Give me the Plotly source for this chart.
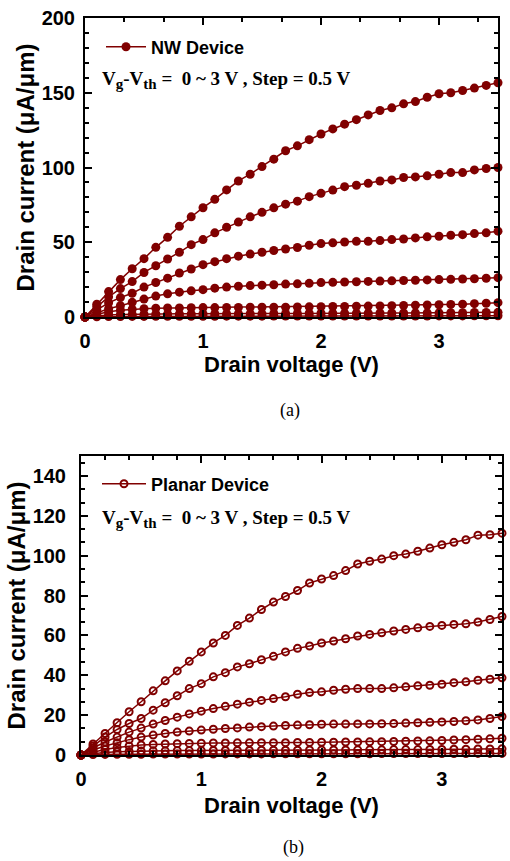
import plotly.graph_objects as go

# ---------------- data ----------------
vd = [0.0, 0.1, 0.2, 0.3, 0.4, 0.5, 0.6, 0.7, 0.8, 0.9, 1.0, 1.1, 1.2, 1.3, 1.4, 1.5, 1.6, 1.7,
      1.8, 1.9, 2.0, 2.1, 2.2, 2.3, 2.4, 2.5, 2.6, 2.7, 2.8, 2.9, 3.0, 3.1, 3.2, 3.3, 3.4, 3.5]

# NW device, Vg-Vth = 3.0, 2.5, 2.0, 1.5, 1.0, 0.5, 0 V
nw_30 = [0, 8.5, 17, 25, 32.3, 39, 46.6, 53.3, 60.7, 67, 73.1, 78.7, 85, 91, 95.5, 100.6, 105.6, 111.2,
         114.5, 118.6, 122.4, 125.8, 129, 132, 135.2, 138.1, 139.9, 142.6, 144.1, 147, 149.3, 150, 151.5, 153.1, 154.9, 156.7]
nw_25 = [0, 7, 13.5, 19, 23.7, 29.8, 34.3, 38.8, 43.3, 48.4, 51.8, 56.3, 60, 63.5, 67, 70, 73, 75.5,
         77.5, 80.5, 82.7, 84.9, 87.2, 88.1, 89.4, 91, 91.7, 93.3, 93.7, 94.4, 95.5, 96.6, 96.6, 98.4, 99.3, 100]
nw_20 = [0, 5, 9.5, 13, 15.9, 20, 23.1, 26, 29.4, 32.1, 35, 37, 39, 40.7, 42.1, 43.3, 44.5, 45.5,
         46.5, 48, 49.1, 49.6, 50.2, 50.6, 50.6, 51.1, 51.8, 52.2, 52.9, 53.6, 54, 54.7, 55.1, 55.8, 56.3, 57.4]
nw_15 = [0, 3, 5.5, 7.5, 9.8, 12, 14, 15.5, 16.6, 17.5, 18.3, 19.3, 20, 20.6, 21, 21.3, 21.6, 22,
         22.2, 22.5, 23, 23.2, 23.4, 23.6, 23.8, 24, 24.2, 24.4, 24.6, 24.8, 25, 25.2, 25.4, 25.6, 25.9, 26.3]
nw_10 = [0, 2, 3.5, 4.5, 5.2, 5.6, 5.9, 6.0, 6.1, 6.2, 6.3, 6.3, 6.4, 6.4, 6.5, 6.5, 6.6, 6.6,
         6.7, 6.8, 6.9, 7.0, 7.1, 7.2, 7.3, 7.4, 7.6, 7.7, 7.9, 8.0, 8.2, 8.4, 8.6, 8.9, 9.2, 9.6]
nw_05 = [0, 0.8, 1.3, 1.6, 1.8, 1.9, 2.0, 2.0, 2.1, 2.1, 2.2, 2.2, 2.2, 2.3, 2.3, 2.3, 2.4, 2.4,
         2.4, 2.5, 2.5, 2.5, 2.6, 2.6, 2.6, 2.7, 2.7, 2.7, 2.8, 2.8, 2.8, 2.9, 2.9, 3.0, 3.0, 3.1]
nw_00 = [0, 0.2, 0.3, 0.35, 0.4, 0.4, 0.45, 0.45, 0.5, 0.5, 0.5, 0.5, 0.55, 0.55, 0.55, 0.55, 0.6, 0.6,
         0.6, 0.6, 0.6, 0.65, 0.65, 0.65, 0.65, 0.7, 0.7, 0.7, 0.7, 0.7, 0.75, 0.75, 0.75, 0.8, 0.8, 0.8]

# Planar device, Vg-Vth = 3.0, 2.5, 2.0, 1.5, 1.0, 0.5, 0 V
pl_30 = [0, 5.5, 10.8, 16.2, 21.7, 26.7, 32.2, 37.2, 42.2, 47, 51.7, 56.2, 60, 65, 68.7, 73, 76.7, 79.5,
         82.5, 86.3, 88.3, 90, 92.5, 95.8, 97.2, 98.3, 100, 100.8, 102.2, 103.8, 105.5, 106.7, 108, 110.3, 110.5, 111.3]
pl_25 = [0, 4.5, 9, 12.8, 15.8, 18.3, 22.5, 26.2, 29.7, 33.3, 35.8, 39.2, 41.3, 44.2, 45.8, 47.8, 49.5, 51.7,
         53.5, 54.7, 56.2, 57.2, 58.3, 59.7, 60.5, 61.3, 62.2, 63, 63.8, 64.5, 65, 65.5, 65.8, 66.7, 68, 69.5]
pl_20 = [0, 3.5, 6.5, 9, 11.5, 13.5, 15.5, 17.3, 19, 20.6, 22, 23.3, 24.4, 25.5, 26.5, 27.4, 28.3, 29.2,
         30.5, 31.3, 31.7, 32.5, 33, 33.3, 33.3, 33.3, 33.7, 34.2, 34.7, 35, 35.5, 36.3, 36.7, 37.5, 38, 38.7]
pl_15 = [0, 2.5, 4.5, 6.2, 7.7, 9, 10, 10.8, 11.5, 12, 12.5, 12.9, 13.3, 13.6, 14, 14.2, 14.5, 14.8,
         15, 15.2, 15.4, 15.5, 15.5, 15.6, 15.6, 15.7, 15.8, 16, 16.2, 16.4, 16.6, 16.8, 17.2, 17.6, 18.3, 19.3]
pl_10 = [0, 1.5, 2.8, 3.8, 4.5, 5, 5.3, 5.5, 5.7, 5.8, 5.9, 6.0, 6.0, 6.1, 6.1, 6.2, 6.2, 6.2,
         6.3, 6.3, 6.4, 6.4, 6.5, 6.5, 6.6, 6.7, 6.8, 6.9, 7.0, 7.1, 7.3, 7.5, 7.7, 7.9, 8.1, 8.4]
pl_05 = [0, 0.8, 1.3, 1.6, 1.8, 2.0, 2.1, 2.1, 2.2, 2.2, 2.2, 2.3, 2.3, 2.3, 2.3, 2.4, 2.4, 2.4,
         2.4, 2.5, 2.5, 2.5, 2.5, 2.6, 2.6, 2.6, 2.7, 2.7, 2.7, 2.8, 2.8, 2.9, 2.9, 3.0, 3.0, 3.1]
pl_00 = [0, 0.2, 0.3, 0.35, 0.4, 0.4, 0.45, 0.45, 0.5, 0.5, 0.5, 0.5, 0.55, 0.55, 0.55, 0.55, 0.6, 0.6,
         0.6, 0.6, 0.6, 0.65, 0.65, 0.65, 0.65, 0.7, 0.7, 0.7, 0.7, 0.7, 0.75, 0.75, 0.75, 0.8, 0.8, 0.8]

nw_curves = [nw_30, nw_25, nw_20, nw_15, nw_10, nw_05, nw_00]
pl_curves = [pl_30, pl_25, pl_20, pl_15, pl_10, pl_05, pl_00]

legend_top = "NW Device"
legend_bottom = "Planar Device"
x_title = "Drain voltage (V)"
y_title = "Drain current (\u03bcA/\u03bcm)"

# ---------------- styling ----------------
C = "#800000"
W, H = 510, 861
SANS = "Liberation Sans"
SERIF = "Liberation Serif"

fig = go.Figure()

for i, ys in enumerate(nw_curves):
    fig.add_trace(go.Scatter(
        x=vd, y=ys, mode="lines+markers", name=legend_top,
        showlegend=(i == 0), legend="legend",
        line=dict(color=C, width=1.5),
        marker=dict(symbol="circle", size=9, color=C),
        cliponaxis=False, xaxis="x", yaxis="y"))

for i, ys in enumerate(pl_curves):
    fig.add_trace(go.Scatter(
        x=vd, y=ys, mode="lines+markers", name=legend_bottom,
        showlegend=(i == 0), legend="legend2",
        line=dict(color=C, width=1.5),
        marker=dict(symbol="circle-open", size=7, color=C, line=dict(color=C, width=2)),
        cliponaxis=False, xaxis="x2", yaxis="y2"))


def ax_common():
    return dict(showline=True, linecolor="black", linewidth=2, mirror="allticks",
                ticks="inside", ticklen=7, tickwidth=1.5, tickcolor="black",
                showgrid=False, zeroline=False, automargin=False,
                tickfont=dict(family=SANS, size=20, color="black", weight="bold"))


def title_font(sz):
    return dict(family=SANS, size=sz, color="black", weight="bold")


def minor(dt):
    return dict(ticks="inside", ticklen=4, tickwidth=1.5, tickcolor="black", dtick=dt)


fig.update_layout(
    xaxis=dict(**ax_common(), domain=[85 / W, 498 / W], range=[0, 3.5], anchor="y",
               tick0=0, dtick=1, ticklabelstandoff=5, minor=minor(1 / 3),
               title=dict(text=x_title, font=title_font(22), standoff=5)),
    yaxis=dict(**ax_common(), domain=[1 - 317 / H, 1 - 18 / H], range=[0, 200], anchor="x",
               tick0=0, dtick=50, ticklabelstandoff=4, minor=minor(10),
               title=dict(text=y_title, font=title_font(24), standoff=0)),
    xaxis2=dict(**ax_common(), domain=[81 / W, 502 / W], range=[0, 3.5], anchor="y2",
                tick0=0, dtick=1, ticklabelstandoff=5, minor=minor(0.2),
                title=dict(text=x_title, font=title_font(22), standoff=9)),
    yaxis2=dict(**ax_common(), domain=[1 - 755 / H, 1 - 456 / H], range=[0, 150], anchor="x2",
                tick0=0, dtick=20, ticklabelstandoff=9, minor=minor(20 / 3),
                title=dict(text=y_title, font=title_font(24), standoff=0)),
)

fig.update_layout(
    width=W, height=H,
    margin=dict(l=0, r=0, t=0, b=0, autoexpand=False),
    paper_bgcolor="white", plot_bgcolor="white",
    legend=dict(x=101 / W, y=1 - 47 / H, xanchor="left", yanchor="middle",
                bgcolor="rgba(0,0,0,0)", itemwidth=40,
                font=dict(family=SANS, size=18, color="black", weight="bold")),
    legend2=dict(x=97 / W, y=1 - 484 / H, xanchor="left", yanchor="middle",
                 bgcolor="rgba(0,0,0,0)", itemwidth=44,
                 font=dict(family=SANS, size=18, color="black", weight="bold")),
)

sub_style = "<sub><span style='font-size:15px'>%s</span></sub>"
cond = ("V" + sub_style % "g" + "-V" + sub_style % "th" +
        " =\u00a0 0 ~ 3 V , Step = 0.5 V")
ann_font = dict(family=SERIF, size=19, color="black", weight="bold")
fig.add_annotation(text=cond, x=100 / W, y=1 - 80 / H, xref="paper", yref="paper",
                   xanchor="left", yanchor="middle", showarrow=False, font=ann_font)
fig.add_annotation(text=cond, x=100 / W, y=1 - 519 / H, xref="paper", yref="paper",
                   xanchor="left", yanchor="middle", showarrow=False, font=ann_font)
fig.add_annotation(text="(a)", x=290 / W, y=1 - 410 / H, xref="paper", yref="paper",
                   xanchor="center", yanchor="middle", showarrow=False,
                   font=dict(family=SERIF, size=18, color="black"))
fig.add_annotation(text="(b)", x=293 / W, y=1 - 847 / H, xref="paper", yref="paper",
                   xanchor="center", yanchor="middle", showarrow=False,
                   font=dict(family=SERIF, size=18, color="black"))

fig.write_html("out.html")
